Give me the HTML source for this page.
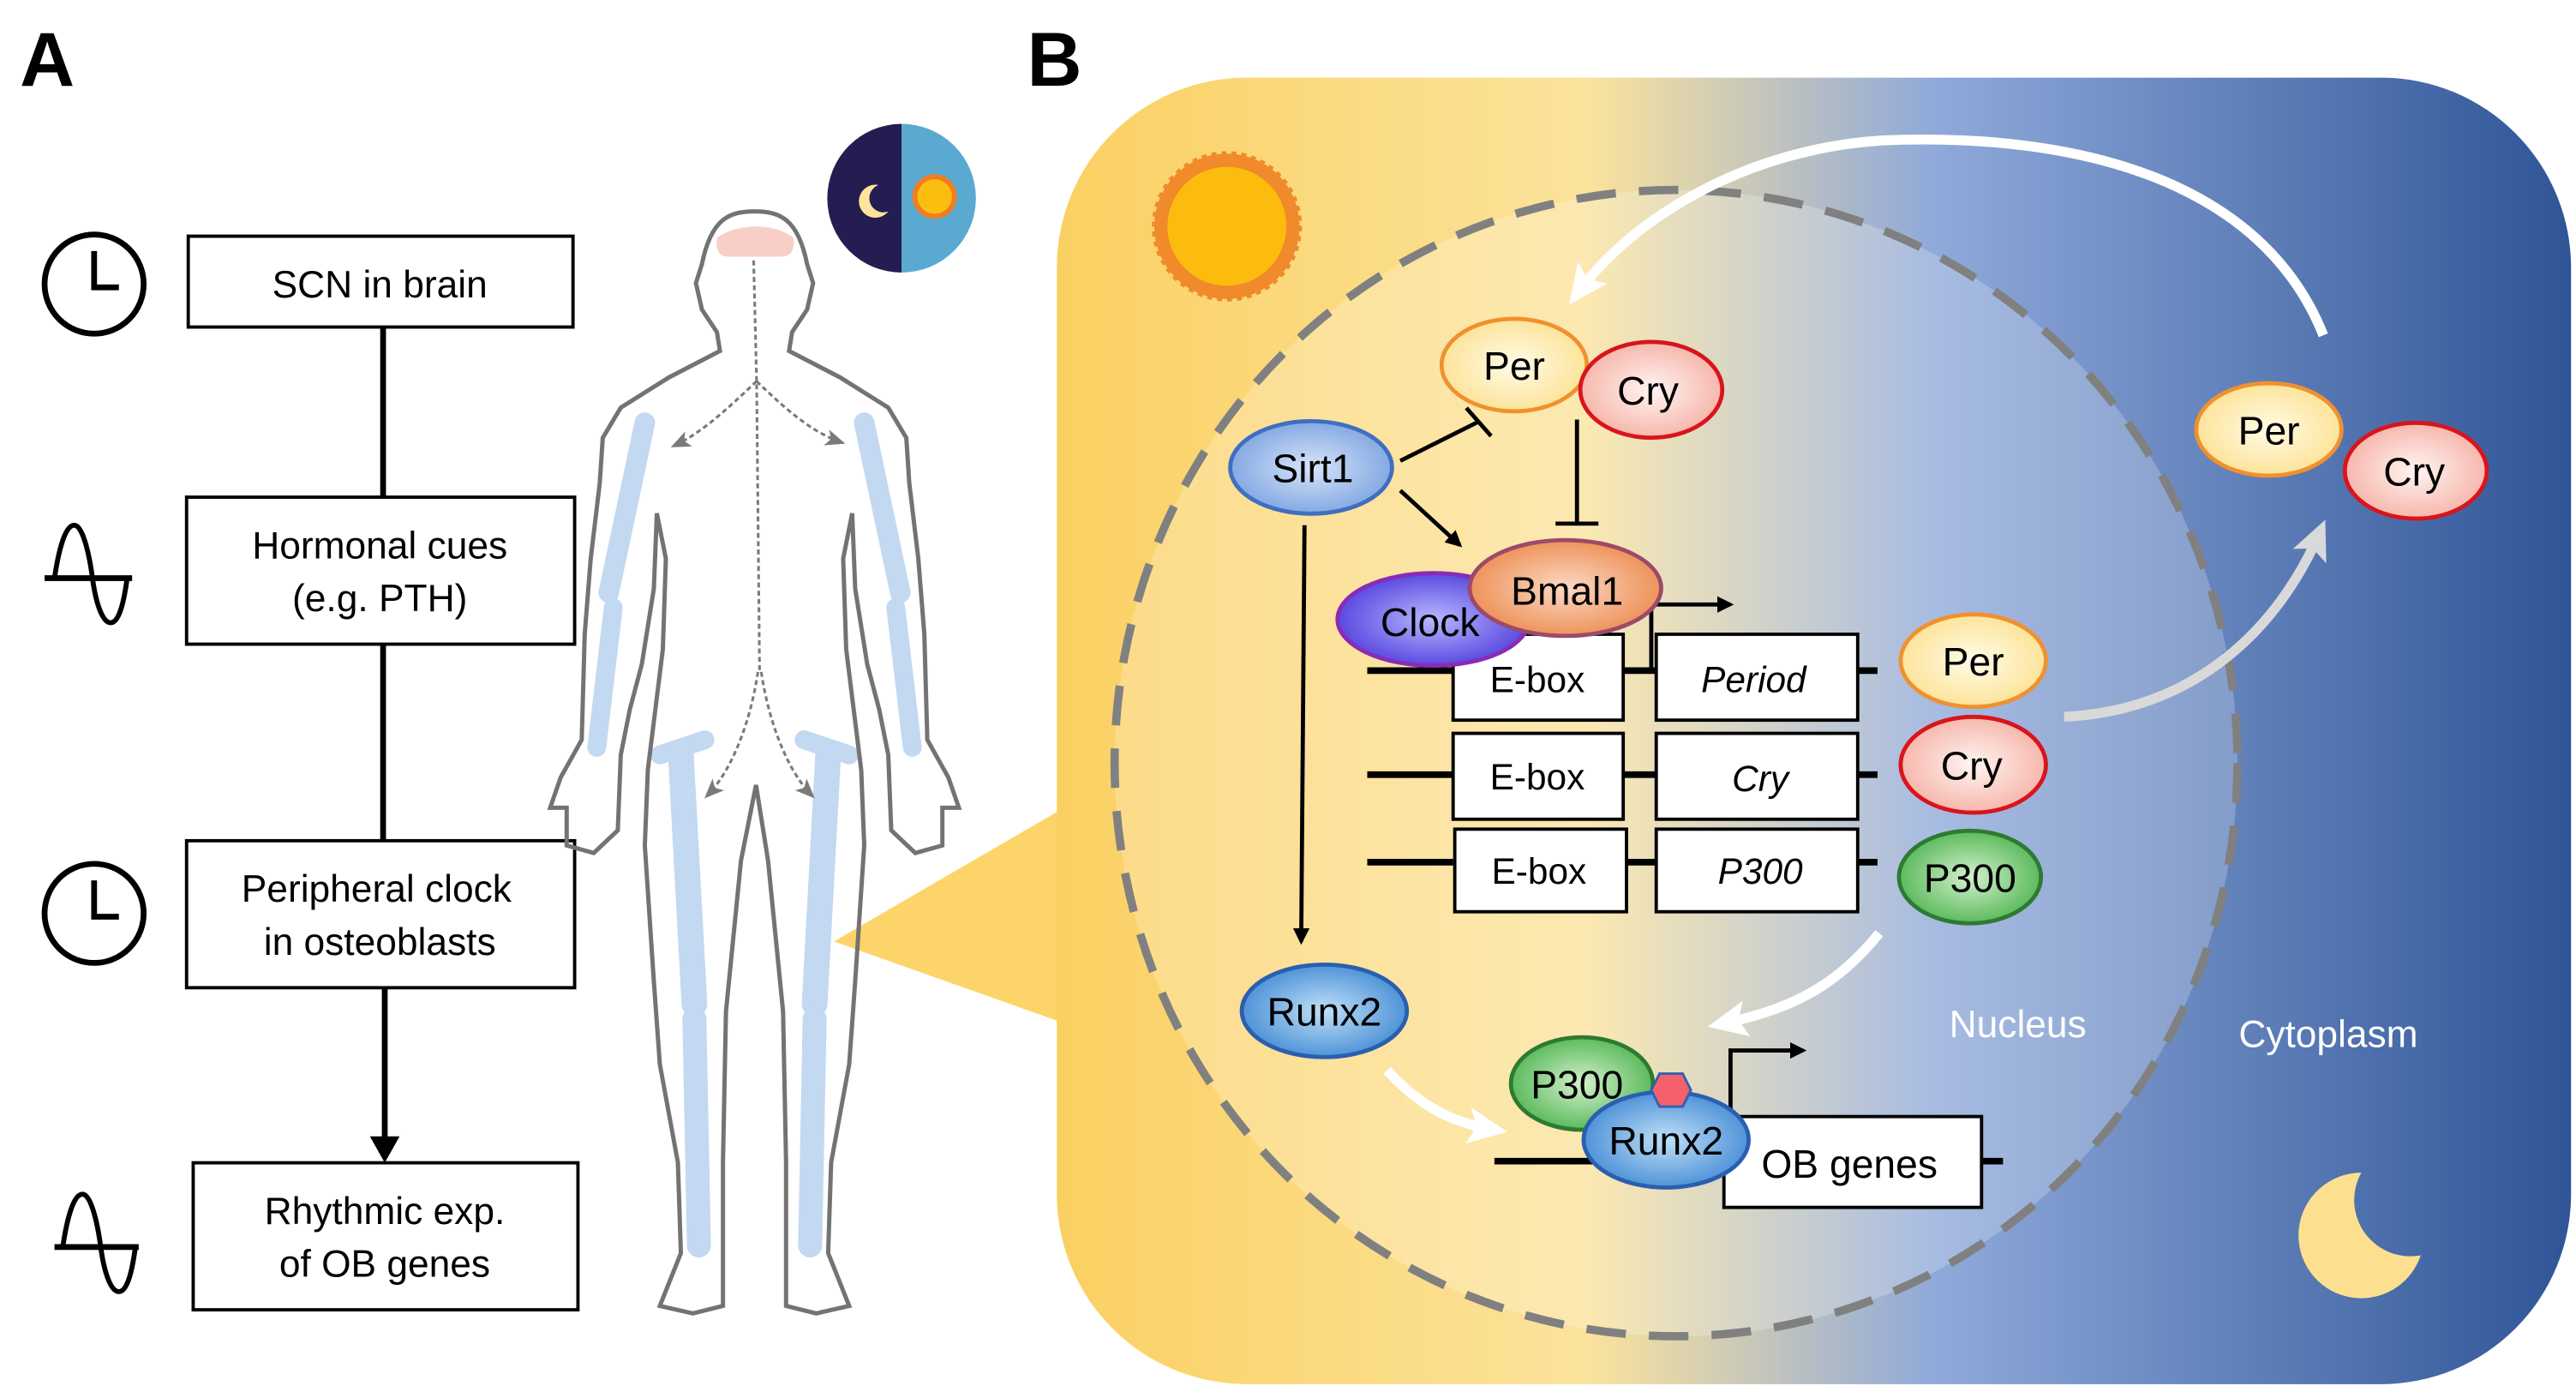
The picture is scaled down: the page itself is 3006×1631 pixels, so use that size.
<!DOCTYPE html>
<html><head><meta charset="utf-8"><style>
html,body{margin:0;padding:0;background:#fff}
svg{display:block}
text{font-family:"Liberation Sans","DejaVu Sans",sans-serif}
</style></head><body>
<svg width="3006" height="1631" viewBox="0 0 1560 846.4" preserveAspectRatio="none" xmlns="http://www.w3.org/2000/svg">
<defs>
<linearGradient id="bg" x1="640" y1="0" x2="1557" y2="0" gradientUnits="userSpaceOnUse">
<stop offset="0" stop-color="#fbd062"/>
<stop offset="0.35" stop-color="#fbe39c"/>
<stop offset="0.58" stop-color="#8fa9da"/>
<stop offset="1" stop-color="#2f5597"/>
</linearGradient>
<radialGradient id="gPer"><stop offset="0" stop-color="#fffbe8"/><stop offset="1" stop-color="#fde49a"/></radialGradient>
<radialGradient id="gCry"><stop offset="0" stop-color="#fff5f2"/><stop offset="1" stop-color="#f6b7ac"/></radialGradient>
<radialGradient id="gSirt"><stop offset="0" stop-color="#d6e4fa"/><stop offset="1" stop-color="#85a9e2"/></radialGradient>
<radialGradient id="gClock"><stop offset="0" stop-color="#b6b8ff"/><stop offset="1" stop-color="#5b4ae0"/></radialGradient>
<radialGradient id="gBmal"><stop offset="0" stop-color="#fbd9c6"/><stop offset="1" stop-color="#ee935a"/></radialGradient>
<radialGradient id="gP300"><stop offset="0" stop-color="#d4f0cd"/><stop offset="1" stop-color="#5cbb5d"/></radialGradient>
<radialGradient id="gRunx"><stop offset="0" stop-color="#bfe0f7"/><stop offset="1" stop-color="#4f93d8"/></radialGradient>
<marker id="ak" markerWidth="10" markerHeight="10" refX="8" refY="5" orient="auto" markerUnits="userSpaceOnUse"><path d="M0,0 L10,5 L0,10 z" fill="#000"/></marker>
<marker id="ag" markerWidth="12" markerHeight="10" refX="10" refY="5" orient="auto" markerUnits="userSpaceOnUse"><path d="M0,0 L12,5 L0,10 L3,5 z" fill="#7a7a7a"/></marker>
<marker id="aw" markerWidth="24" markerHeight="22" refX="16" refY="11" orient="auto" markerUnits="userSpaceOnUse"><path d="M0,0 L24,11 L0,22 L5,11 z" fill="#fff"/></marker>
<marker id="alg" markerWidth="24" markerHeight="22" refX="16" refY="11" orient="auto" markerUnits="userSpaceOnUse"><path d="M0,0 L24,11 L0,22 L5,11 z" fill="#d9d9d9"/></marker>
</defs>

<text x="12" y="52" font-size="46" font-weight="bold">A</text>
<text x="622" y="52" font-size="46" font-weight="bold">B</text>

<g stroke="#000" stroke-width="3.5" fill="none">
<line x1="232" y1="198" x2="232" y2="301"/>
<line x1="232" y1="390" x2="232" y2="509"/>
<line x1="233" y1="598" x2="233" y2="690"/>
</g>
<path d="M224,688 L242,688 L233,704 z" fill="#000"/>
<g fill="#fff" stroke="#000" stroke-width="2">
<rect x="114" y="143" width="233" height="55"/>
<rect x="113" y="301" width="235" height="89"/>
<rect x="113" y="509" width="235" height="89"/>
<rect x="117" y="704" width="233" height="89"/>
</g>
<g font-size="23" text-anchor="middle" fill="#000">
<text x="230" y="180">SCN in brain</text>
<text x="230" y="338">Hormonal cues</text>
<text x="230" y="370">(e.g. PTH)</text>
<text x="228" y="546">Peripheral clock</text>
<text x="230" y="578">in osteoblasts</text>
<text x="233" y="741">Rhythmic exp.</text>
<text x="233" y="773">of OB genes</text>
</g>
<g stroke="#000" stroke-width="3.5" fill="none">
<ellipse cx="57" cy="172" rx="30" ry="30"/>
<path d="M57,152 V174 H72"/>
<ellipse cx="57" cy="553" rx="30" ry="30"/>
<path d="M57,533 V555 H72"/>
<path d="M27,350 H80"/>
<path d="M33,350 C36,330 40,318 45,318 C50,318 54,335 56,350 C58,365 62,377 67,377 C72,377 75,365 77,350" stroke-width="3"/>
<path d="M33,755 H84"/>
<path d="M38,755 C41,735 45,723 50,723 C55,723 59,740 61,755 C63,770 67,782 72,782 C77,782 80,770 82,755" stroke-width="3"/>
</g>

<path d="M546,75 A45,45 0 0,0 546,165 z" fill="#241d52"/>
<path d="M546,75 A45,45 0 0,1 546,165 z" fill="#5aa9d0"/>
<circle cx="566" cy="119" r="12" fill="#fbbd10" stroke="#ef7d22" stroke-width="3"/>
<path d="M532,112 A10,10 0 1,0 538,128 A8,8 0 1,1 532,112 z" fill="#fde49a"/>

<path d="M505,570 L660,480 L660,625 z" fill="#fcd46a"/>

<rect x="640" y="47" width="917" height="791" rx="115" ry="115" fill="url(#bg)"/>

<!-- Body -->
<g transform="translate(345,109.7) scale(0.182,0.457)">
<g stroke="#c3d8f1" stroke-linecap="round" fill="none">
<line x1="980" y1="320" x2="1100" y2="545" stroke-width="24" vector-effect="non-scaling-stroke"/>
<line x1="1085" y1="565" x2="1140" y2="750" stroke-width="22" vector-effect="non-scaling-stroke"/>
<line x1="250" y1="320" x2="130" y2="545" stroke-width="24" vector-effect="non-scaling-stroke"/>
<line x1="145" y1="565" x2="90" y2="750" stroke-width="22" vector-effect="non-scaling-stroke"/>
<line x1="860" y1="760" x2="815" y2="1090" stroke-width="30" vector-effect="non-scaling-stroke"/>
<line x1="815" y1="1110" x2="800" y2="1410" stroke-width="28" vector-effect="non-scaling-stroke"/>
<line x1="370" y1="760" x2="415" y2="1090" stroke-width="30" vector-effect="non-scaling-stroke"/>
<line x1="415" y1="1110" x2="430" y2="1410" stroke-width="28" vector-effect="non-scaling-stroke"/>
<line x1="780" y1="740" x2="930" y2="760" stroke-width="22" vector-effect="non-scaling-stroke"/>
<line x1="450" y1="740" x2="300" y2="760" stroke-width="22" vector-effect="non-scaling-stroke"/>
</g>
<path d="M615,40 C700,40 760,50 790,110 L810,135 L790,170 L740,200 L730,225 L900,260 L1060,300 L1120,340 L1130,400 L1160,500 L1180,600 L1190,740 L1260,790 L1295,830 L1240,830 L1240,880 L1150,890 L1070,860 L1060,760 L1030,700 L990,640 L950,540 L940,440 L910,500 L920,620 L970,780 L980,880 L950,1060 L930,1170 L870,1300 L860,1420 L930,1490 L820,1500 L720,1490 L720,1300 L710,1100 L660,900 L620,800 L570,900 L520,1100 L510,1300 L510,1490 L410,1500 L300,1490 L370,1420 L360,1300 L300,1170 L280,1060 L250,880 L260,780 L310,620 L320,500 L290,440 L280,540 L240,640 L200,700 L170,760 L160,860 L80,890 L-10,880 L-10,830 L-65,830 L-30,790 L40,740 L50,600 L70,500 L100,400 L110,340 L170,300 L330,260 L500,225 L490,200 L440,170 L420,135 L440,110 C470,50 530,40 615,40 z" fill="none" stroke="#737373" stroke-width="5" vector-effect="non-scaling-stroke"/>
<path d="M490,75 C560,55 680,55 745,75 C750,95 730,100 700,100 L530,100 C495,100 485,90 490,75 z" fill="#f8cfc7"/>
</g>
<g fill="none" stroke="#7a7a7a" stroke-width="1.6" stroke-dasharray="3,2">
<path d="M456.4,157.7 L458.2,230.8 L460,406.8"/>
<path d="M458.2,230.8 C440,248 425,262 408,270" marker-end="url(#ag)"/>
<path d="M458.2,230.8 C476,248 492,262 510,268" marker-end="url(#ag)"/>
<path d="M459,406.8 C454,440 442,468 428,482" marker-end="url(#ag)"/>
<path d="M461,406.8 C466,440 478,468 492,482" marker-end="url(#ag)"/>
</g>

<ellipse cx="1015" cy="462" rx="340" ry="347" fill="#fff" fill-opacity="0.22" stroke="#808080" stroke-width="5" stroke-dasharray="24,14"/>

<circle cx="743" cy="137" r="44" fill="#f08a2a" stroke="#f08a2a" stroke-width="3" stroke-dasharray="3,3"/>
<circle cx="743" cy="137" r="36" fill="#fcbc0e"/>
<path d="M1430,710 A38,38 0 1,0 1466,760 A34,34 0 0,1 1430,710 z" fill="#fde08f"/>

<path d="M1407,203 C1370,110 1260,80 1140,85 C1060,90 990,130 955,178" fill="none" stroke="#fff" stroke-width="6" marker-end="url(#aw)"/>
<path d="M1250,434 C1330,430 1380,380 1405,322" fill="none" stroke="#d9d9d9" stroke-width="6" marker-end="url(#alg)"/>
<path d="M1138,565 C1110,600 1080,612 1042,620" fill="none" stroke="#fff" stroke-width="6" marker-end="url(#aw)"/>
<path d="M840,648 C860,670 880,680 905,684" fill="none" stroke="#fff" stroke-width="6" marker-end="url(#aw)"/>

<g stroke="#000" stroke-width="2.5" fill="none">
<line x1="848" y1="279" x2="896" y2="255"/>
<line x1="888" y1="247" x2="903" y2="264"/>
<line x1="955" y1="254" x2="955" y2="317"/>
<line x1="942" y1="317" x2="968" y2="317"/>
<line x1="848" y1="297" x2="884" y2="330" marker-end="url(#ak)"/>
<line x1="790" y1="318" x2="788" y2="570" marker-end="url(#ak)"/>
<path d="M1000,404 V366 H1048" marker-end="url(#ak)"/>
<path d="M1048,676 V636 H1092" marker-end="url(#ak)"/>
</g>
<g stroke="#000" stroke-width="4">
<line x1="828" y1="406" x2="880" y2="406"/><line x1="983" y1="406" x2="1003" y2="406"/><line x1="1125" y1="406" x2="1137" y2="406"/>
<line x1="828" y1="469" x2="880" y2="469"/><line x1="983" y1="469" x2="1003" y2="469"/><line x1="1125" y1="469" x2="1137" y2="469"/>
<line x1="828" y1="522" x2="880" y2="522"/><line x1="985" y1="522" x2="1003" y2="522"/><line x1="1125" y1="522" x2="1137" y2="522"/>
<line x1="905" y1="703" x2="965" y2="703"/><line x1="1200" y1="703" x2="1213" y2="703"/>
</g>
<g fill="#fff" stroke="#000" stroke-width="2">
<rect x="880" y="384" width="103" height="52"/>
<rect x="1003" y="384" width="122" height="52"/>
<rect x="880" y="444" width="103" height="52"/>
<rect x="1003" y="444" width="122" height="52"/>
<rect x="881" y="502" width="104" height="50"/>
<rect x="1003" y="502" width="122" height="50"/>
<rect x="1044" y="676" width="156" height="55"/>
</g>
<g font-size="22" text-anchor="middle">
<text x="931" y="419">E-box</text>
<text x="1062" y="419" font-style="italic">Period</text>
<text x="931" y="478">E-box</text>
<text x="1066" y="479" font-style="italic">Cry</text>
<text x="932" y="535">E-box</text>
<text x="1066" y="535" font-style="italic">P300</text>
<text x="1120" y="713" font-size="24">OB genes</text>
</g>

<g stroke-width="2.5" font-size="24" text-anchor="middle">
<ellipse cx="917" cy="221" rx="44" ry="28" fill="url(#gPer)" stroke="#f0912e"/>
<ellipse cx="1000" cy="236" rx="43" ry="29" fill="url(#gCry)" stroke="#d9141c"/>
<text x="917" y="230">Per</text><text x="998" y="245">Cry</text>
<ellipse cx="794" cy="283" rx="49" ry="28" fill="url(#gSirt)" stroke="#3f6fc1"/>
<text x="795" y="292">Sirt1</text>
<ellipse cx="868" cy="375" rx="58" ry="28" fill="url(#gClock)" stroke="#8a2bb8"/>
<ellipse cx="948" cy="356" rx="58" ry="29" fill="url(#gBmal)" stroke="#9c4a6a"/>
<text x="866" y="385">Clock</text><text x="949" y="366">Bmal1</text>
<ellipse cx="1195" cy="400" rx="44" ry="28" fill="url(#gPer)" stroke="#f0912e"/>
<text x="1195" y="409">Per</text>
<ellipse cx="1195" cy="463" rx="44" ry="29" fill="url(#gCry)" stroke="#d9141c"/>
<text x="1194" y="472">Cry</text>
<ellipse cx="1193" cy="531" rx="43" ry="28" fill="url(#gP300)" stroke="#2e7a32"/>
<text x="1193" y="540">P300</text>
<ellipse cx="1374" cy="260" rx="44" ry="28" fill="url(#gPer)" stroke="#f0912e"/>
<ellipse cx="1463" cy="285" rx="43" ry="29" fill="url(#gCry)" stroke="#d9141c"/>
<text x="1374" y="269">Per</text><text x="1462" y="294">Cry</text>
<ellipse cx="802" cy="612" rx="50" ry="28" fill="url(#gRunx)" stroke="#2a5fb0"/>
<text x="802" y="621">Runx2</text>
<ellipse cx="958" cy="656" rx="43" ry="28" fill="url(#gP300)" stroke="#2e7a32"/>
<text x="955" y="665">P300</text>
<ellipse cx="1009" cy="690" rx="50" ry="29" fill="url(#gRunx)" stroke="#2a5fb0"/>
<text x="1009" y="699">Runx2</text>
</g>
<path d="M1005,650 L1019,650 L1024,660 L1019,670 L1005,670 L1000,660 z" fill="#f6606a" stroke="#3060b0" stroke-width="1.5"/>

<text x="1222" y="628" font-size="23" fill="#fff" text-anchor="middle">Nucleus</text>
<text x="1410" y="634" font-size="23" fill="#fff" text-anchor="middle">Cytoplasm</text>
</svg>
</body></html>
